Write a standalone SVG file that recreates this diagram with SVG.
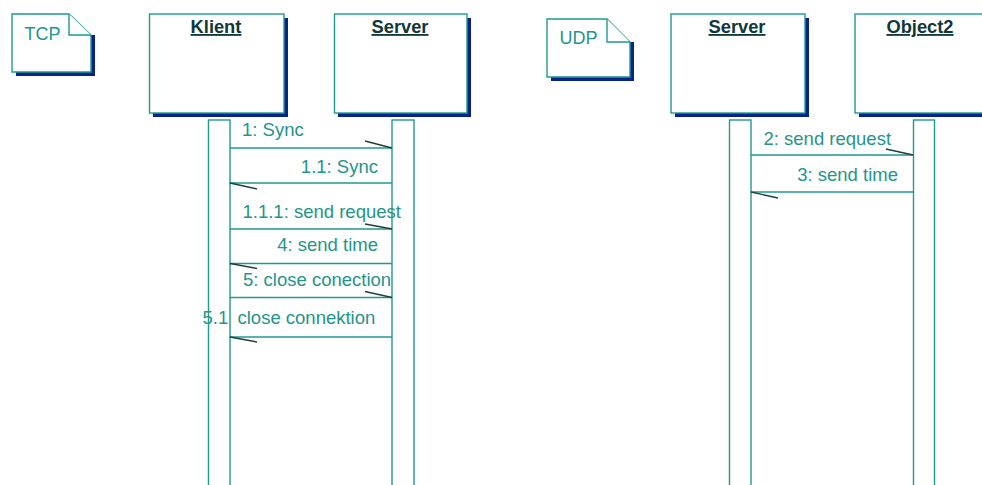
<svg xmlns="http://www.w3.org/2000/svg" width="982" height="485" viewBox="0 0 982 485">
<style>
.box{fill:#fff;stroke:#1f9a8c;stroke-width:1.4}
.shadow{fill:#06238c}
.bar{fill:#fff;stroke:#1f9a8c;stroke-width:1.4}
.title{font-family:"Liberation Sans",Arial,sans-serif;font-weight:bold;font-size:18.3px;fill:#103838;text-decoration:underline}
.note{font-family:"Liberation Sans",Arial,sans-serif;font-size:18px;fill:#23958a}
.msg{font-family:"Liberation Sans",Arial,sans-serif;font-size:18.5px;fill:#23958a}
.line{stroke:#1f9a8c;stroke-width:1.3;fill:none}
.head{stroke:#1d3f3c;stroke-width:1.4;fill:none}
</style>
<rect width="982" height="485" fill="#fff"/>

<g id="note-tcp">
<path class="shadow" d="M91 35 H95 V76 H16 V72 H91 Z"/>
<path class="box" d="M12 14 H69 L91 35 V72 H12 Z"/>
<path class="box" d="M69 14 V35 H91" fill="none"/>
<text class="note" x="24.5" y="39.5">TCP</text>
</g>

<g id="klient">
<path class="shadow" d="M284 18 H288 V117 H153 V113 H284 Z"/>
<rect class="box" x="149.5" y="14" width="134.5" height="99"/>
<text class="title" x="216" y="33" text-anchor="middle">Klient</text>
<rect class="bar" x="208.5" y="120" width="21.5" height="370"/>
</g>

<g id="server-tcp">
<path class="shadow" d="M467 18 H471 V117 H338 V113 H467 Z"/>
<rect class="box" x="334.5" y="14" width="132.5" height="99"/>
<text class="title" x="400" y="33" text-anchor="middle">Server</text>
<rect class="bar" x="392" y="120" width="22" height="370"/>
</g>

<g id="note-udp">
<path class="shadow" d="M630 42 H634 V81 H551 V77 H630 Z"/>
<path class="box" d="M547 19 H607 L630 42 V77 H547 Z"/>
<path class="box" d="M607 19 V42 H630" fill="none"/>
<text class="note" x="559.5" y="44">UDP</text>
</g>

<g id="server-udp">
<path class="shadow" d="M805 18 H809 V117 H675 V113 H805 Z"/>
<rect class="box" x="671" y="14" width="134" height="99"/>
<text class="title" x="737" y="33" text-anchor="middle">Server</text>
<rect class="bar" x="729.5" y="120" width="21.5" height="370"/>
</g>

<g id="object2">
<path class="shadow" d="M989 18 H993 V117 H859 V113 H989 Z"/>
<rect class="box" x="855" y="14" width="134" height="99"/>
<text class="title" x="920" y="33" text-anchor="middle">Object2</text>
<rect class="bar" x="913.5" y="120" width="21" height="370"/>
</g>

<g id="connectors">
<line class="line" x1="230" y1="148" x2="392" y2="148"/>
<path class="head" d="M365 141 L392 148"/>
<text class="msg" x="242" y="136">1: Sync</text>

<line class="line" x1="230" y1="183" x2="392" y2="183"/>
<path class="head" d="M230 183 L257 189"/>
<text class="msg" x="378" y="172.5" text-anchor="end">1.1: Sync</text>

<line class="line" x1="230" y1="229" x2="392" y2="229"/>
<path class="head" d="M365 224 L392 229"/>
<text class="msg" x="242.5" y="218">1.1.1: send request</text>

<line class="line" x1="230" y1="263.5" x2="392" y2="263.5"/>
<path class="head" d="M230 263.5 L257 268.5"/>
<text class="msg" x="378" y="250.5" text-anchor="end">4: send time</text>

<line class="line" x1="230" y1="297.5" x2="392" y2="297.5"/>
<path class="head" d="M365 291.5 L392 297.5"/>
<text class="msg" x="243" y="285.5">5: close conection</text>

<line class="line" x1="230" y1="337" x2="392" y2="337"/>
<path class="head" d="M230 337 L257 342"/>
<text class="msg" y="323.5"><tspan x="202.5">5.1</tspan><tspan x="237.5">close connektion</tspan></text>

<line class="line" x1="751" y1="155" x2="913.5" y2="155"/>
<path class="head" d="M886 149 L913 155"/>
<text class="msg" x="763.5" y="144.5">2: send request</text>

<line class="line" x1="751" y1="192" x2="913.5" y2="192"/>
<path class="head" d="M751 192 L778 198"/>
<text class="msg" x="898" y="181" text-anchor="end">3: send time</text>
</g>
</svg>
